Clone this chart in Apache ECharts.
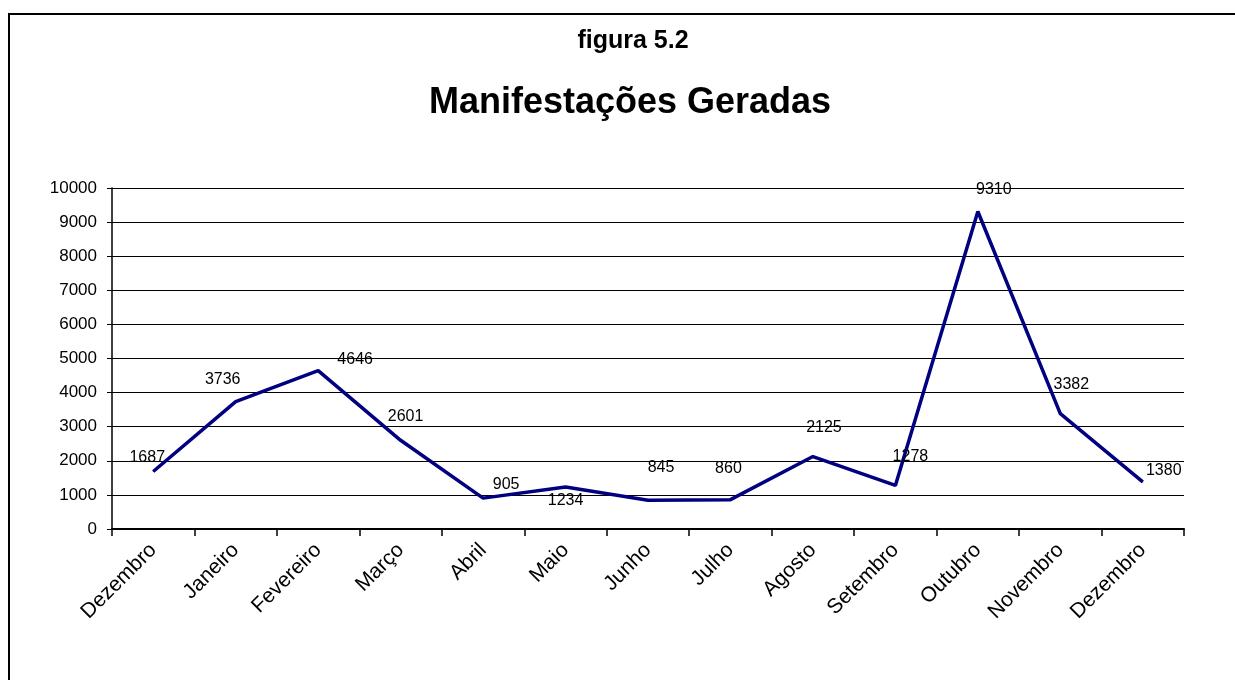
<!DOCTYPE html>
<html>
<head>
<meta charset="utf-8">
<script src="https://cdn.jsdelivr.net/npm/echarts@6/dist/echarts.min.js"></script>
<style>
html,body{margin:0;padding:0;background:#fff;}
#chart{width:1235px;height:680px;}
</style>
</head>
<body>
<div id="chart"></div>
<script>
const chartTitle = 'figura 5.2';
const chartSubtitle = 'Manifestações Geradas';
const categories = ['Dezembro','Janeiro','Fevereiro','Março','Abril','Maio','Junho','Julho','Agosto','Setembro','Outubro','Novembro','Dezembro'];
const values = [1687, 3736, 4646, 2601, 905, 1234, 845, 860, 2125, 1278, 9310, 3382, 1380];
const yTicks = {min: 0, max: 10000, interval: 1000};
// label offsets (pixels, relative to the point) as drawn in the reference
const labelOffsets = [[-6,-14],[-13,-22],[37,-11],[5,-24],[23,-14],[0,14],[13,-33],[-2,-31],[11,-29],[15,-29],[16,-22],[11,-29],[21,-11]];

const chart = echarts.init(document.getElementById('chart'), null, {renderer:'canvas'});
const font = '"Liberation Sans", Arial, sans-serif';
chart.setOption({
  backgroundColor: '#fff',
  animation: false,
  title: [
    {text: chartTitle, left: 628, top: 24, textAlign: 'center',
     textStyle: {fontFamily: font, fontWeight: 'bold', fontSize: 25, color: '#000'}},
    {text: chartSubtitle, left: 625, top: 80, textAlign: 'center',
     textStyle: {fontFamily: font, fontWeight: 'bold', fontSize: 36, color: '#000'}}
  ],
  graphic: [{
    type: 'rect', shape: {x: 9, y: 14, width: 1240, height: 700},
    style: {fill: 'none', stroke: '#000', lineWidth: 2}, silent: true, z: 100
  }],
  grid: {left: 112, right: 51, top: 188, bottom: 151, containLabel: false},
  xAxis: {
    type: 'category', data: categories, boundaryGap: true,
    axisLine: {lineStyle: {color: '#000', width: 2}},
    axisTick: {show: true, length: 7, alignWithLabel: false, lineStyle: {color: '#000', width: 1.5}},
    axisLabel: {rotate: 45, margin: 18, interval: 0, fontFamily: font, fontSize: 21, color: '#000'},
    splitLine: {show: false}
  },
  yAxis: {
    type: 'value', min: yTicks.min, max: yTicks.max, interval: yTicks.interval,
    axisLine: {show: true, lineStyle: {color: '#000', width: 1.5}},
    axisTick: {show: true, length: 5, lineStyle: {color: '#000'}},
    axisLabel: {margin: 15, fontFamily: font, fontSize: 17, color: '#000',
      formatter: v => String(v)},
    splitLine: {show: true, lineStyle: {color: '#000', width: 1}}
  },
  series: [{
    type: 'line',
    data: values.map((v, i) => ({
      value: v,
      label: {offset: labelOffsets[i]}
    })),
    symbol: 'circle', symbolSize: 1, showSymbol: true,
    itemStyle: {color: '#000080'},
    lineStyle: {color: '#000080', width: 3.5},
    label: {show: true, position: 'inside', fontFamily: font, fontSize: 16, color: '#000'}
  }]
});
</script>
</body>
</html>
